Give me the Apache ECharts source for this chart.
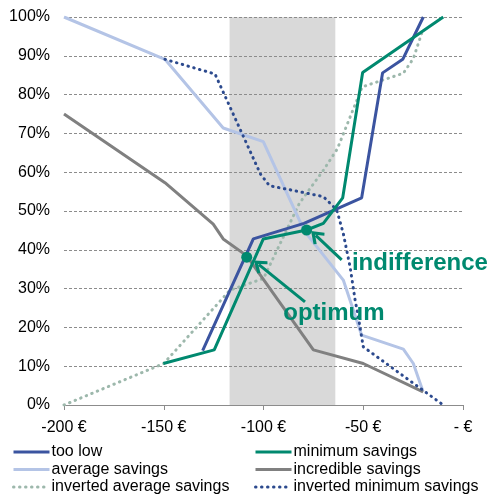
<!DOCTYPE html>
<html>
<head>
<meta charset="utf-8">
<script src="https://cdn.jsdelivr.net/npm/echarts@6/dist/echarts.min.js"></script>
<style>
  html, body { margin: 0; padding: 0; background: #fff; }
  #chart { width: 489px; height: 496px; }
</style>
</head>
<body>
<div id="chart"></div>
<script>
// points are [euro, percent]
const tooLow = [[-130.5, 14.0], [-105.1, 42.8], [-79.7, 46.8], [-50.8, 53.4], [-40.3, 85.6], [-30.2, 89.1], [-19.9, 100]];
const minimumSavings = [[-150.2, 10.7], [-124.7, 14.2], [-100.1, 42.8], [-78.4, 45.1], [-70, 46.8], [-60.3, 53.4], [-50.3, 85.7], [-9.9, 100]];
const averageSavings = [[-200, 100], [-149.4, 89.1], [-120.2, 71.4], [-100.1, 67.9], [-79.5, 44.8], [-60, 32.2], [-50.8, 18], [-29.9, 14.4], [-24.9, 10.7], [-20, 3.4]];
const incredibleSavings = [[-200, 75], [-149.4, 57.3], [-125.2, 46.6], [-120.2, 42.8], [-108.5, 38.5], [-75, 14.2], [-50, 10.7], [-20, 3.4]];
const invertedAverage = [[-200, 0], [-150, 10.7], [-116.8, 29.6], [-100, 32.6], [-82, 52], [-70, 60.5], [-63, 66], [-50.5, 82], [-29.9, 85.5], [-24.9, 89.3], [-20.7, 95.8]];
const invertedMinimum = [[-149.4, 89.1], [-124.3, 85.3], [-101.5, 59.5], [-97, 56.5], [-86, 55.4], [-70, 53.7], [-63.3, 50.3], [-60, 44.2], [-56.6, 35.6], [-54.1, 27.1], [-52.5, 22.8], [-50, 15], [-9.9, 0]];

const band = [-117, -64];
const optimumPoint = [-108.4, 38.1];
const indifferencePoint = [-78.4, 45.1];
// arrow end = centre of the arrow head
const optimumArrow = [[-79.2, 26.6], [-102.3, 36.2]];
const indifferenceArrow = [[-60.8, 37.4], [-73.8, 43.7]];
const optimumLabel = [-64.7, 23.7];
const indifferenceLabel = [-21.6, 36.4];

// legend layout: two columns, three rows
const legendLeft = ['too low', 'average savings', 'inverted average savings'];
const legendRight = ['minimum savings', 'incredible savings', 'inverted minimum savings'];
const legendRowTop = [444, 461.5, 479];

const xTicks = { min: -200, max: 0, step: 50 };
const yTicks = { min: 0, max: 100, step: 10 };

const TEAL = '#00896F';
const FONT = 'Liberation Sans, Arial, sans-serif';
const CHEVRON = 'path://M8,0 L16,11 L13.6,13 L8,5.6 L2.4,13 L0,11 Z';

function lineSeries(name, data, color, width, dotted) {
    return {
        name,
        type: 'line',
        data,
        symbol: 'none',
        z: 3,
        lineStyle: dotted
            ? { color, width: 3, type: [0.5, 5.5], cap: 'round' }
            : { color, width },
        itemStyle: { color },
    };
}

function legendItem(name, left, top) {
    return {
        left,
        top,
        padding: 0,
        itemWidth: 36,
        itemHeight: 14,
        itemStyle: { opacity: 0 },
        lineStyle: { width: 3 },
        textStyle: { fontSize: 16, color: '#000', fontFamily: FONT, padding: [0, 0, 0, -3] },
        data: [name],
    };
}

const legends = [];
legendLeft.forEach((n, i) => legends.push(legendItem(n, 12, legendRowTop[i])));
legendRight.forEach((n, i) => legends.push(legendItem(n, 254, legendRowTop[i])));

const chart = echarts.init(document.getElementById('chart'), null, { renderer: 'canvas' });

chart.setOption({
    animation: false,
    textStyle: { fontFamily: FONT },
    grid: { left: 64, right: 26, top: 17, bottom: 91 },
    xAxis: {
        type: 'value',
        min: xTicks.min,
        max: xTicks.max,
        interval: xTicks.step,
        axisLine: { lineStyle: { color: '#8c8c8c', width: 1 } },
        axisTick: { length: 5, lineStyle: { color: '#8c8c8c' } },
        axisLabel: {
            fontSize: 16,
            color: '#000',
            margin: 15,
            formatter: v => (v === 0 ? '- €' : v + ' €'),
        },
        splitLine: { show: false },
    },
    yAxis: {
        type: 'value',
        min: yTicks.min,
        max: yTicks.max,
        interval: yTicks.step,
        axisLine: { show: false },
        axisTick: { show: false },
        axisLabel: { fontSize: 16, color: '#000', margin: 14, formatter: '{value}%' },
        splitLine: { lineStyle: { color: '#8c8c8c', type: [3, 2], width: 1 } },
    },
    legend: legends,
    series: [
        {
            name: 'band',
            type: 'line',
            data: [],
            z: -1,
            markArea: {
                z: -1,
                silent: true,
                itemStyle: { color: '#D9D9D9' },
                data: [[{ xAxis: band[0], yAxis: yTicks.min }, { xAxis: band[1], yAxis: yTicks.max }]],
            },
        },
        lineSeries('inverted average savings', invertedAverage, '#9DB8AC', 3, true),
        lineSeries('average savings', averageSavings, '#B4C4E6', 3, false),
        lineSeries('incredible savings', incredibleSavings, '#808080', 3, false),
        lineSeries('inverted minimum savings', invertedMinimum, '#2C4A8E', 3, true),
        lineSeries('too low', tooLow, '#3B54A0', 3, false),
        lineSeries('minimum savings', minimumSavings, TEAL, 3, false),
        {
            name: 'notes',
            type: 'line',
            data: [],
            z: 5,
            markLine: {
                silent: true,
                symbol: ['none', CHEVRON],
                symbolSize: [16, 13],
                label: { show: false },
                lineStyle: { color: TEAL, width: 3, type: 'solid' },
                data: [
                    [{ coord: optimumArrow[0] }, { coord: optimumArrow[1] }],
                    [{ coord: indifferenceArrow[0] }, { coord: indifferenceArrow[1] }],
                ],
            },
            markPoint: {
                silent: true,
                data: [
                    { coord: optimumPoint, symbol: 'circle', symbolSize: 11, itemStyle: { color: TEAL }, label: { show: false } },
                    { coord: indifferencePoint, symbol: 'circle', symbolSize: 11, itemStyle: { color: TEAL }, label: { show: false } },
                    {
                        coord: optimumLabel, symbol: 'circle', symbolSize: 0,
                        label: { show: true, position: 'inside', formatter: 'optimum', color: TEAL, fontSize: 24, fontWeight: 'bold', fontFamily: FONT },
                    },
                    {
                        coord: indifferenceLabel, symbol: 'circle', symbolSize: 0,
                        label: { show: true, position: 'inside', formatter: 'indifference', color: TEAL, fontSize: 24, fontWeight: 'bold', fontFamily: FONT },
                    },
                ],
            },
        },
    ],
});

window.addEventListener('resize', () => chart.resize());
</script>
</body>
</html>
